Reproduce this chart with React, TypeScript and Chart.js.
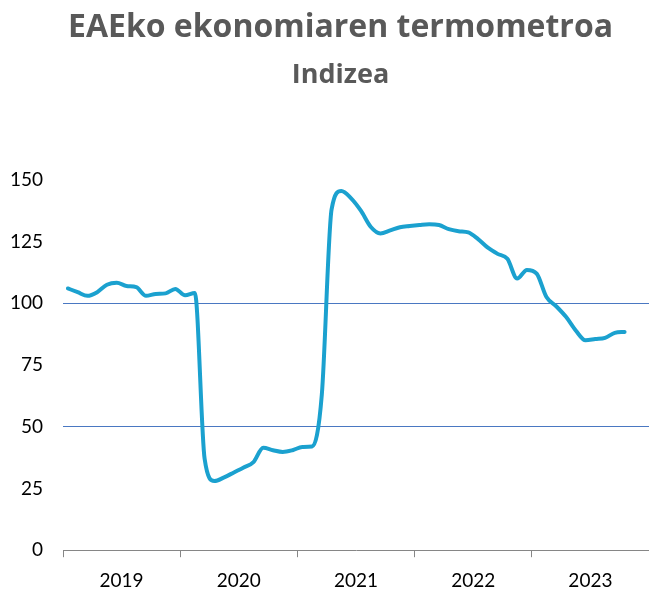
import React, { useEffect, useRef } from "react";
import { Chart, registerables } from "chart.js";

Chart.register(...registerables);

const TITLE = "EAEko ekonomiaren termometroa";
const SUBTITLE = "Indizea";

const years = [2019, 2020, 2021, 2022, 2023];
const monthsPerYear = 12;

const values2019 = [106, 104.5, 103, 104.5, 107.5, 108.3, 107, 106.5, 103, 103.8, 104, 105.8];
const values2020 = [103.2, 104.2, 37, 28, 29.5, 31.5, 33.5, 35.7, 41.5, 40.5, 39.8, 40.5];
const values2021 = [41.8, 42, 63, 138, 145.5, 142.5, 137.5, 131, 128.3, 129.5, 130.8, 131.3];
const values2022 = [131.7, 132, 131.7, 130, 129.2, 128.7, 126, 122.5, 120, 118, 110, 113.5];
const values2023 = [112, 102.5, 98.8, 94.5, 89, 85, 85.5, 86, 88, 88.4];

const seriesByYear = [values2019, values2020, values2021, values2022, values2023];

const yTicks = [0, 25, 50, 75, 100, 125, 150];
const gridValues = [50, 100];

const titleShift = {
  id: "titleShift",
  afterLayout(chart: any) {
    const shift = 16;
    for (const b of chart.boxes) {
      if (b && b.position === "top" && b.options && b.options.text !== undefined) {
        b.left += shift;
        b.right += shift;
      }
    }
  },
};

export default function App() {
  const canvasRef = useRef<HTMLCanvasElement | null>(null);

  useEffect(() => {
    const canvas = canvasRef.current;
    if (!canvas) return;

    const points: { x: number; y: number }[] = [];
    seriesByYear.forEach((vals, yi) => {
      vals.forEach((v, mi) => {
        points.push({ x: years[yi] + (mi + 0.5) / monthsPerYear, y: v });
      });
    });

    const chart = new Chart(canvas, {
      type: "line",
      data: {
        datasets: [
          {
            data: points,
            borderColor: "#1ba1cf",
            borderWidth: 4,
            pointRadius: 0,
            cubicInterpolationMode: "monotone",
            borderCapStyle: "round",
            borderJoinStyle: "round",
            fill: false,
          },
        ],
      },
      plugins: [titleShift],
      options: {
        animation: false,
        responsive: false,
        maintainAspectRatio: false,
        layout: { padding: { left: 0, right: 0, top: 0, bottom: -15 } },
        plugins: {
          legend: { display: false },
          tooltip: { enabled: false },
          title: {
            display: true,
            text: TITLE,
            color: "#595959",
            font: { family: "Open Sans", size: 32, weight: "bold" },
            padding: { top: 9, bottom: 12 },
          },
          subtitle: {
            display: true,
            text: SUBTITLE,
            color: "#595959",
            font: { family: "Open Sans", size: 27, weight: "bold" },
            padding: { top: 0, bottom: 88 },
          },
        },
        scales: {
          x: {
            type: "linear",
            min: years[0],
            max: years[years.length - 1] + 1,
            afterFit: (scale: any) => {
              scale.paddingRight = 0;
              scale.paddingLeft = 0;
            },
            border: { display: true, color: "#868686", width: 1 },
            grid: {
              drawOnChartArea: false,
              drawTicks: true,
              tickLength: 7,
              color: (ctx: any) =>
                ctx.tick && Number.isInteger(ctx.tick.value) ? "#868686" : "rgba(0,0,0,0)",
            },
            ticks: {
              stepSize: 0.5,
              autoSkip: false,
              maxRotation: 0,
              padding: 12,
              color: "#000000",
              font: { family: "Lato", size: 19 },
              callback: (v: any) => {
                const n = Number(v);
                return Number.isInteger(n) ? "" : String(Math.floor(n));
              },
            },
          },
          y: {
            min: 0,
            max: 150,
            afterFit: (scale: any) => {
              scale.width = 63;
            },
            border: { display: false },
            grid: {
              drawTicks: false,
              lineWidth: 1,
              color: (ctx: any) =>
                ctx.tick && gridValues.includes(ctx.tick.value) ? "#4a78c2" : "rgba(0,0,0,0)",
            },
            afterBuildTicks: (scale: any) => {
              scale.ticks = yTicks.map((v) => ({ value: v }));
            },
            ticks: {
              padding: 20,
              color: "#000000",
              font: { family: "Lato", size: 19 },
            },
          },
        },
      },
    });

    return () => chart.destroy();
  }, []);

  return (
    <div style={{ position: "absolute", left: 0, top: 0, width: 649, height: 589, background: "#fff" }}>
      <canvas ref={canvasRef} width={649} height={589} style={{ display: "block" }} />
    </div>
  );
}
